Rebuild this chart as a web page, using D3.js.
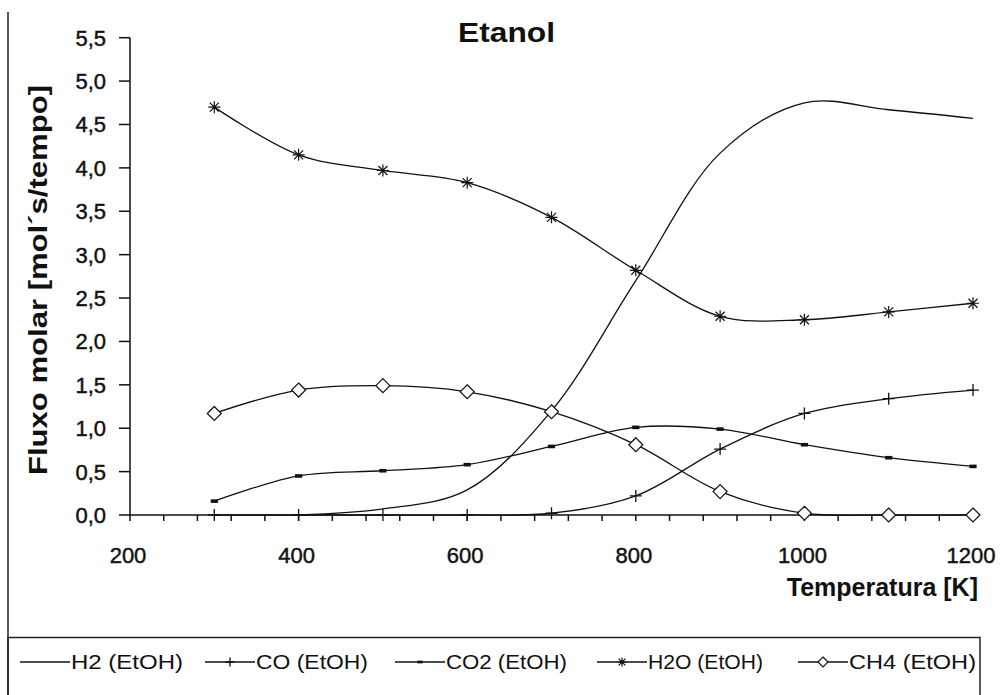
<!DOCTYPE html>
<html>
<head>
<meta charset="utf-8">
<title>Etanol</title>
<style>
  body { margin: 0; background: #fff; }
  svg { display: block; background: #fff; }
  text { font-family: Arial, "Liberation Sans", sans-serif; fill: #111; }
  .tick-label { stroke: #111; stroke-width: 0.45px; }
</style>
</head>
<body>
<script src="https://d3js.org/d3.v7.min.js"></script>
<script>
// data
const temps = [300, 400, 500, 600, 700, 800, 900, 1000, 1100, 1200];
const h2  = [null, 0.0, 0.07, 0.29, 1.2, 2.7, 4.17, 4.75, 4.67, 4.57];
const co  = [0, 0, 0, 0, 0.02, 0.22, 0.76, 1.17, 1.34, 1.44];
const co2 = [0.16, 0.45, 0.51, 0.58, 0.79, 1.01, 0.99, 0.81, 0.66, 0.56];
const h2o = [4.70, 4.15, 3.97, 3.83, 3.43, 2.82, 2.29, 2.25, 2.34, 2.44];
const ch4 = [1.17, 1.44, 1.49, 1.42, 1.19, 0.81, 0.27, 0.02, 0, 0];

const seriesNames = ["H2 (EtOH)", "CO (EtOH)", "CO2 (EtOH)", "H2O (EtOH)", "CH4 (EtOH)"];
const seriesValues = [h2, co, co2, h2o, ch4];
const seriesMarks = ["none", "plus", "rect", "star", "diamond"];

const xTicks = [200, 400, 600, 800, 1000, 1200];
const yTicks = [0, 0.5, 1, 1.5, 2, 2.5, 3, 3.5, 4, 4.5, 5, 5.5];

const width = 1000, height = 695;

const svg = d3.select("body").append("svg")
    .attr("width", width)
    .attr("height", height);

const x = d3.scaleLinear().domain([200, 1200]).range([130, 973]);
const y = d3.scaleLinear().domain([0, 5.5]).range([515, 37.7]);

const fmt = d => d3.format(".1f")(d).replace(".", ",");

// outer frame (left edge) and legend box
svg.append("line").attr("x1", 8).attr("x2", 8).attr("y1", 12).attr("y2", 700)
    .attr("stroke", "#222").attr("stroke-width", 1.5);
svg.append("rect").attr("x", 8).attr("y", 637.5).attr("width", 972).attr("height", 70)
    .attr("fill", "none").attr("stroke", "#222").attr("stroke-width", 1.5);

// y axis
const yAxis = svg.append("g");
yAxis.append("line").attr("x1", 130).attr("x2", 130)
    .attr("y1", y(5.5)).attr("y2", y(0)).attr("stroke", "#111").attr("stroke-width", 1.5);
yAxis.selectAll(".yt").data(yTicks).join("line")
    .attr("x1", 119).attr("x2", 130)
    .attr("y1", d => y(d)).attr("y2", d => y(d))
    .attr("stroke", "#111").attr("stroke-width", 1.5);
yAxis.selectAll(".yl").data(yTicks).join("text")
    .attr("class", "tick-label")
    .attr("x", 106).attr("y", d => y(d) + 8)
    .attr("text-anchor", "end")
    .attr("font-size", 22)
    .text(fmt);

// x axis
const xAxis = svg.append("g");
xAxis.append("line").attr("x1", x(200)).attr("x2", x(1200))
    .attr("y1", y(0)).attr("y2", y(0)).attr("stroke", "#111").attr("stroke-width", 1.5);
xAxis.selectAll(".xt").data(d3.range(200, 1201, 40)).join("line")
    .attr("x1", d => x(d)).attr("x2", d => x(d))
    .attr("y1", y(0)).attr("y2", y(0) + 6)
    .attr("stroke", "#111").attr("stroke-width", 1.5);
xAxis.selectAll(".xl").data(xTicks).join("text")
    .attr("class", "tick-label")
    .attr("x", d => x(d) - 2).attr("y", 563)
    .attr("text-anchor", "middle")
    .attr("font-size", 22)
    .text(d => d);

// titles
svg.append("text").attr("x", 458).attr("y", 42)
    .attr("font-size", 27).attr("font-weight", "bold")
    .attr("textLength", 97).attr("lengthAdjust", "spacingAndGlyphs")
    .text("Etanol");
svg.append("text").attr("x", 978).attr("y", 596)
    .attr("text-anchor", "end")
    .attr("font-size", 25).attr("font-weight", "bold")
    .text("Temperatura [K]");
svg.append("text")
    .attr("transform", "translate(47,280) rotate(-90)")
    .attr("text-anchor", "middle")
    .attr("font-size", 26).attr("font-weight", "bold")
    .attr("textLength", 390).attr("lengthAdjust", "spacingAndGlyphs")
    .text("Fluxo molar [mol´s/tempo]");

// marker shapes
function drawMarker(g, kind, s) {
  if (kind === "plus") {
    g.append("path").attr("d", `M${-s},0H${s}M0,${-s}V${s}`)
      .attr("stroke", "#111").attr("stroke-width", 1.3).attr("fill", "none");
  } else if (kind === "rect") {
    g.append("rect").attr("x", -s * 0.6).attr("y", -s * 0.3)
      .attr("width", s * 1.2).attr("height", s * 0.6).attr("fill", "#111");
  } else if (kind === "star") {
    const d = s * 0.75;
    g.append("path")
      .attr("d", `M${-s},0H${s}M0,${-s}V${s}M${-d},${-d}L${d},${d}M${-d},${d}L${d},${-d}`)
      .attr("stroke", "#111").attr("stroke-width", 1.2).attr("fill", "none");
  } else if (kind === "diamond") {
    g.append("path").attr("d", `M0,${-s}L${s},0L0,${s}L${-s},0Z`)
      .attr("stroke", "#111").attr("stroke-width", 1.2).attr("fill", "#fff");
  }
}
const markSize = {plus: 6, rect: 6, star: 6, diamond: 7};

// series lines
const line = d3.line()
    .defined(d => d[1] !== null)
    .x(d => x(d[0])).y(d => y(d[1]))
    .curve(d3.curveCatmullRom.alpha(0.5));

seriesValues.forEach((vals, i) => {
  const pts = temps.map((t, j) => [t, vals[j]]);
  svg.append("path").datum(pts)
    .attr("d", line)
    .attr("fill", "none").attr("stroke", "#111").attr("stroke-width", 1.3);
});
seriesValues.forEach((vals, i) => {
  const kind = seriesMarks[i];
  if (kind === "none") return;
  temps.forEach((t, j) => {
    if (vals[j] === null) return;
    const g = svg.append("g").attr("transform", `translate(${x(t)},${y(vals[j])})`);
    drawMarker(g, kind, markSize[kind]);
  });
});

// legend
const legX = [20, 205, 395, 597, 798];
const legW = [112, 112, 121, 115, 127];
const legY = 662;
seriesNames.forEach((name, i) => {
  const lg = svg.append("g").attr("transform", `translate(${legX[i]},${legY})`);
  lg.append("line").attr("x1", 0).attr("x2", 50).attr("y1", 0).attr("y2", 0)
    .attr("stroke", "#111").attr("stroke-width", 1.3);
  if (seriesMarks[i] !== "none") {
    const m = lg.append("g").attr("transform", "translate(25,0)");
    drawMarker(m, seriesMarks[i], seriesMarks[i] === "diamond" ? 5 : 4.5);
  }
  lg.append("text").attr("x", 51).attr("y", 7)
    .attr("font-size", 20)
    .attr("textLength", legW[i]).attr("lengthAdjust", "spacingAndGlyphs")
    .text(name);
});
</script>
</body>
</html>
